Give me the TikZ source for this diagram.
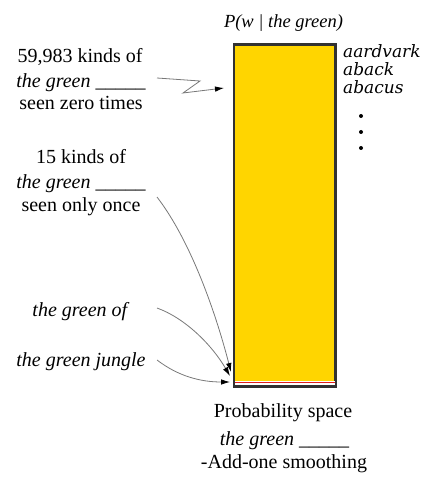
\documentclass[tikz,border=0pt]{standalone}
\usepackage{fontspec}
\setmainfont{Liberation Serif}
\newfontfamily\labfont{DejaVu Serif}
\usetikzlibrary{arrows.meta}
\definecolor{boxyellow}{RGB}{255,213,0}
\definecolor{boxborder}{RGB}{50,50,50}
\definecolor{conngray}{RGB}{120,120,120}
\definecolor{stripred}{RGB}{225,30,30}
\tikzset{
  lbl/.style={inner sep=0pt, anchor=base, font=\fontsize{20}{23.5}\selectfont},
  ttl/.style={inner sep=0pt, anchor=base, font=\fontsize{18.5}{22}\selectfont\itshape},
  wrd/.style={inner sep=0pt, anchor=base west, font=\fontsize{17}{18}\selectfont\labfont\itshape},
  dotn/.style={circle, fill=black, inner sep=0pt, minimum size=4pt},
  conn/.style={draw=conngray, line width=0.8pt, -{Latex[length=9pt,width=5.5pt,color=black]}},
  probbox/.style={draw=boxborder, line width=1.5pt, fill=boxyellow, inner sep=0pt,
    minimum width=101pt, minimum height=341pt}
}
\begin{document}
\begin{tikzpicture}[x=1pt,y=-1pt]
\useasboundingbox (0,0) rectangle (420,478);
% probability box
\node[probbox] (box) at (284.5,215.5) {};
\fill[white] (234.5,380.6) rectangle (334.5,384.8);
\draw[stripred, line width=1.3pt] (234.5,382.2) -- (334.5,382.2);
\draw[boxborder, line width=1.5pt] (box.south west) rectangle (box.north east);
% title
\node[ttl] (title) at (283.5,28) {P(w | the green)};
% words
\node[wrd] (w1) at (343,58) {aardvark};
\node[wrd] (w2) at (343,76) {aback};
\node[wrd] (w3) at (343,94) {abacus};
\node[dotn] (d1) at (361,116) {};
\node[dotn] (d2) at (361,132) {};
\node[dotn] (d3) at (361,148) {};
% left block 1
\node[lbl] (a1) at (80,63) {59,983 kinds of};
\node[lbl] (a2) at (81,88) {\textit{the green} \_\_\_\_\_};
\node[lbl] (a3) at (81,110) {seen zero times};
% left block 2
\node[lbl] (b1) at (81,164) {15 kinds of};
\node[lbl] (b2) at (81,188) {\textit{the green} \_\_\_\_\_};
\node[lbl] (b3) at (81,211) {seen only once};
% single phrases
\node[lbl] (c1) at (81,316) {\textit{the green of}};
\node[lbl] (c2) at (81,366) {\textit{the green jungle}};
% bottom caption
\node[lbl] (p1) at (283,417) {Probability space};
\node[lbl] (p2) at (284.5,445) {\textit{the green} \_\_\_\_\_};
\node[lbl] (p3) at (284,468) {-Add-one smoothing};
% connectors
\coordinate (sa) at (157,78);
\coordinate (sb) at (157,197);
\coordinate (sc) at (157,308);
\coordinate (sd) at (157,360);
\coordinate (ea) at (224,88);
\coordinate (eb) at (231,372);
\coordinate (ec) at (230,376);
\coordinate (ed) at (230,382);
\draw[conn] (sa) -- (200,81) -- (183,93) -- (ea);
\draw[conn] (sb) .. controls (190,240) and (215,310) .. (eb);
\draw[conn] (sc) .. controls (185,318) and (212,345) .. (ec);
\draw[conn] (sd) .. controls (178,376) and (200,382) .. (ed);
\end{tikzpicture}
\end{document}
